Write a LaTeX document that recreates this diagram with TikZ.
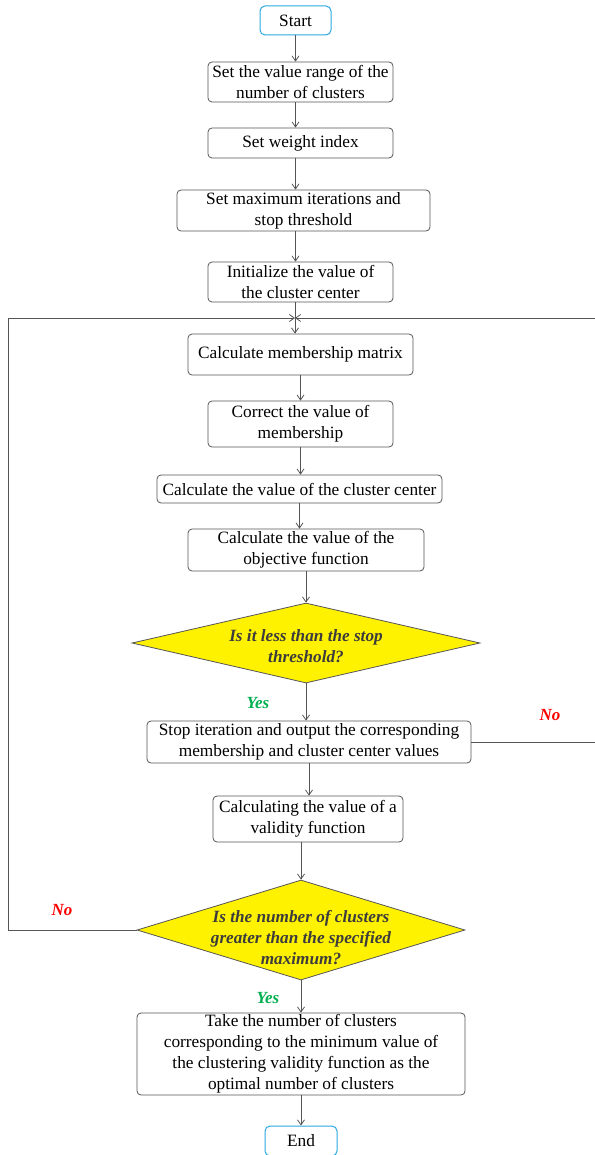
\documentclass[tikz,border=0pt]{standalone}
\usepackage{fontspec}
\setmainfont{Liberation Serif}
\usetikzlibrary{shapes.geometric,arrows.meta}
\definecolor{lincol}{HTML}{555555}
\definecolor{termcol}{HTML}{2AA7E0}
\definecolor{yescol}{HTML}{00B050}
\definecolor{diatxt}{HTML}{3C3C3C}
\tikzset{
  box/.style={draw=lincol, line width=0.8pt, rounded corners=4pt, align=center, inner sep=0pt,
    font=\fontsize{17.3}{21}\selectfont},
  term/.style={box, draw=termcol, line width=1pt, rounded corners=5pt},
  dia/.style={diamond, draw=lincol, line width=0.8pt, fill=yellow, inner sep=0pt},
  diatext/.style={align=center, text=diatxt, font=\fontsize{17.2}{21}\selectfont\bfseries\itshape},
  yeslab/.style={text=yescol, font=\fontsize{17}{19}\selectfont\bfseries\itshape},
  nolab/.style={text=red, font=\fontsize{17}{19}\selectfont\bfseries\itshape},
  arr/.style={draw=lincol, line width=0.8pt, -{Straight Barb[length=5pt,width=7pt]}},
  ln/.style={draw=lincol, line width=0.8pt},
}
\begin{document}
\begin{tikzpicture}[x=1pt,y=-1pt]
\useasboundingbox (0,0) rectangle (594,1155);
\node[term, minimum width=71pt, minimum height=29pt] (start) at (295.5,20.5) {Start};
\node[box, minimum width=185pt, minimum height=40pt] (b1) at (300.5,82) {Set the value range of the\\number of clusters};
\node[box, minimum width=185pt, minimum height=30pt] (b2) at (300.5,143) {Set weight index};
\node[box, minimum width=253pt, minimum height=41pt] (b3) at (303.5,210.5) {Set maximum iterations and\\stop threshold};
\node[box, minimum width=185pt, minimum height=40pt] (b4) at (300.5,282) {Initialize the value of\\the cluster center};
\coordinate (j) at (295,318);
\node[box, minimum width=225pt, minimum height=41pt] (m1) at (300.5,354.5) {Calculate membership matrix};
\node[box, minimum width=185pt, minimum height=46pt] (m2) at (300.5,424) {Correct the value of\\membership};
\node[box, minimum width=285pt, minimum height=28pt] (m3) at (299.5,489) {Calculate the value of the cluster center};
\node[box, minimum width=236pt, minimum height=42pt] (m4) at (306,550) {Calculate the value of the\\objective function};
\node[dia, minimum width=348pt, minimum height=80pt] (d1) at (306,643) {};
\node[diatext] (t1) at (306,646.5) {Is it less than the stop\\threshold?};
\node[box, minimum width=324pt, minimum height=42pt] (m5) at (309,742) {Stop iteration and output the corresponding\\membership and cluster center values};
\node[box, minimum width=190pt, minimum height=46pt] (m6) at (308,819) {Calculating the value of a\\validity function};
\node[dia, minimum width=328pt, minimum height=100pt] (d2) at (301,930) {};
\node[diatext] (t2) at (301,938) {Is the number of clusters\\greater than the specified\\maximum?};
\node[box, minimum width=328pt, minimum height=82pt] (m7) at (301,1054) {Take the number of clusters\\corresponding to the minimum value of\\the clustering validity function as the\\optimal number of clusters};
\node[term, minimum width=72pt, minimum height=30pt] (end) at (301,1141) {End};
\node[yeslab] (y1) at (258,703) {Yes};
\node[yeslab] (y2) at (268,998) {Yes};
\node[nolab] (n1) at (550,715) {No};
\node[nolab] (n2) at (62,910) {No};
\coordinate (r1) at (595.5,742);
\coordinate (r2) at (595.5,318);
\coordinate (l1) at (8,930);
\coordinate (l2) at (8,318);
% connectors
\draw[arr] (start.south) -- (start.south |- b1.north);
\draw[arr] (b1.south -| start) -- (b2.north -| start);
\draw[arr] (b2.south -| start) -- (b3.north -| start);
\draw[arr] (b3.south -| start) -- (b4.north -| start);
\draw[ln] (b4.south -| j) -- (j);
\draw[arr] (j) -- (j |- m1.north);
\draw[arr] (m1.south) -- (m1.south |- m2.north);
\draw[arr] (m2.south) -- (m2.south |- m3.north);
\draw[arr] (m3.south) -- (m3.south |- m4.north);
\draw[arr] (m4.south) -- (d1.north);
\draw[arr] (d1.south) -- (d1.south |- m5.north);
\draw[arr] (m5.south) -- (m5.south |- m6.north);
\draw[arr] (m6.south -| d2) -- (d2.north);
\draw[arr] (d2.south) -- (d2.south |- m7.north);
\draw[arr] (m7.south) -- (end.north);
\draw[arr] (m5.east) -- (r1) -- (r2) -- (j);
\draw[arr] (d2.west) -- (l1) -- (l2) -- (j);
\end{tikzpicture}
\end{document}
